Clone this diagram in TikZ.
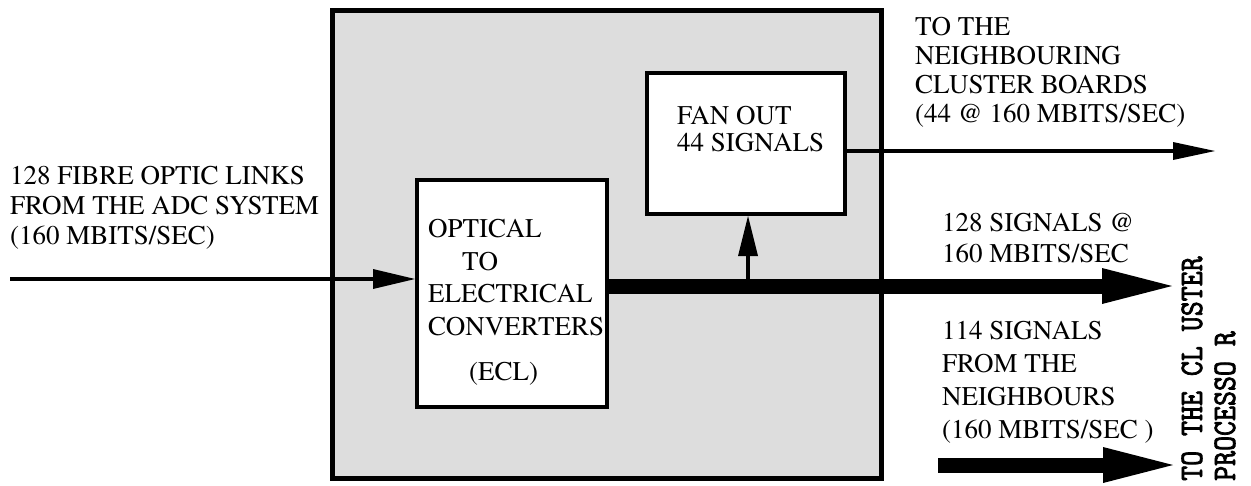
\documentclass[tikz,border=0pt]{standalone}
\usepackage{fontspec}
\setmainfont{texgyretermes}[Extension=.otf, UprightFont=*-regular, BoldFont=*-bold, ItalicFont=*-italic, BoldItalicFont=*-bolditalic]
\newfontfamily\monofam{lmmono10-regular}[Extension=.otf, FakeBold=2.5]
\usetikzlibrary{arrows.meta}
\definecolor{boxgray}{RGB}{221,221,221}
\begin{document}
\begin{tikzpicture}[x=1pt,y=-1pt,
  lbl/.style={anchor=north west, inner sep=0pt, align=left, font=\fontsize{27}{#1}\selectfont},
  lbl/.default=30,
  whitebox/.style={draw, fill=white, line width=4pt, inner sep=0pt},
  thinarrow/.style={line width=4pt, -{Triangle[length=42pt, width=20pt, line width=0pt]}},
  bigarrow/.style={line width=15pt, -{Triangle[length=70pt, width=36pt, line width=0pt]}},
  rot/.style={rotate=90, anchor=base west, inner sep=0pt, font=\monofam\fontsize{28.5}{28.5}\selectfont}]
\useasboundingbox (0,0) rectangle (1251,485);

% outer board
\node[draw, fill=boxgray, line width=5pt, inner sep=0pt, minimum width=549pt, minimum height=468pt] (board) at (606.5,244) {};

% inner boxes
\node[whitebox, minimum width=190pt, minimum height=227pt] (opt) at (512,293.5) {};
\node[whitebox, minimum width=198pt, minimum height=141pt] (fan) at (746,143.5) {};

% texts
\node[lbl=32.5] (opttext) at (428,219.5) {OPTICAL\\\hspace*{34pt}TO\\ELECTRICAL\\CONVERTERS\\[13pt]\hspace*{41pt}(ECL)};
\node[lbl=27] (fantext) at (677,106.5) {FAN OUT\\44 SIGNALS};
\node[lbl=30] (intext) at (10,166.5) {128 FIBRE OPTIC LINKS\\FROM THE ADC SYSTEM\\(160 MBITS/SEC)};
\node[lbl=28.7] (neightext) at (915,17.5) {TO THE\\NEIGHBOURING\\CLUSTER BOARDS\\(44 @ 160 MBITS/SEC)};
\node[lbl=31] (sigtext) at (942,213.5) {128 SIGNALS @\\160 MBITS/SEC};
\node[lbl=32.7] (fromtext) at (942,321.5) {114 SIGNALS\\FROM THE\\NEIGHBOURS\\(160 MBITS/SEC )};

\node[rot] (proc1) at (1202,481) {\scalebox{1}[1.15]{TO THE CL USTER}};
\node[rot] (proc2) at (1235,481) {\scalebox{1}[1.15]{PROCESSO R}};

% connectors
\coordinate (inStart) at (10,279);
\draw[thinarrow] (inStart) -- (inStart -| opt.west);

\coordinate (mainEnd) at (1172,286);
\draw[bigarrow] (opt.east |- mainEnd) -- (mainEnd);

\coordinate (upFoot) at (748,279);
\draw[line width=4pt, -{Triangle[length=40pt, width=20pt, line width=0pt]}] (upFoot) -- (upFoot |- fan.south);

\coordinate (fanEnd) at (1215,151);
\draw[line width=4pt, -{Triangle[length=42pt, width=18pt, line width=0pt]}] (fan.east |- fanEnd) -- (fanEnd);

\coordinate (botStart) at (938,465);
\coordinate (botEnd) at (1173,465);
\draw[bigarrow] (botStart) -- (botEnd);
\end{tikzpicture}
\end{document}
